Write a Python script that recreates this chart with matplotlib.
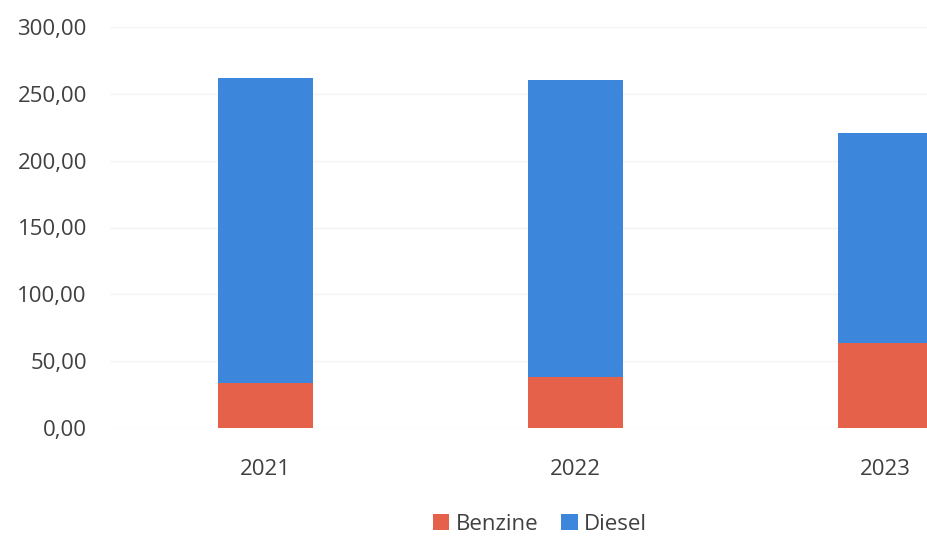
import matplotlib
matplotlib.use('Agg')
import matplotlib.pyplot as plt
import numpy as np

# ── data ─────────────────────────────────────────────────────────────────────
years   = ['2021', '2022', '2023']
benzine = [33.5, 38.5, 63.5]
diesel  = [228.5, 222.0, 157.0]
yticks  = [0, 50, 100, 150, 200, 250, 300]

# ── style ────────────────────────────────────────────────────────────────────
plt.rcParams.update({
    'font.family': ['Open Sans', 'DejaVu Sans'],
    'font.size':   16,
})
C_BENZ = '#e6614a'
C_DIES = '#3c86dc'
TXT    = '#404040'

fig = plt.figure(figsize=(9.28, 5.36), dpi=100)
# axes run past the right edge (the original is cropped there)
ax = fig.add_axes([110.5 / 928, 108 / 536, 930 / 928, 401 / 536])

x = np.arange(len(years))
w = 0.306
ax.bar(x, benzine, w, color=C_BENZ, label='Benzine', zorder=3)
ax.bar(x, diesel, w, bottom=benzine, color=C_DIES, label='Diesel', zorder=3)

ax.set_xlim(-0.5, 2.5)
ax.set_ylim(0, 300)
ax.set_yticks(yticks)
ax.set_yticklabels([f'{v:.2f}'.replace('.', ',') for v in yticks], color=TXT)
ax.set_xticks(x)
ax.set_xticklabels(years, color=TXT)
ax.tick_params(axis='x', length=0, pad=22)
ax.tick_params(axis='y', length=0, pad=17)
ax.yaxis.grid(True, color='#f3f3f3', lw=1.0, zorder=0)
for s in ax.spines.values():
    s.set_visible(False)

leg = fig.legend(loc='center', bbox_to_anchor=(540 / 928, 1 - 524 / 536),
                 ncol=2, frameon=False, handlelength=0.75, handleheight=0.75,
                 handletextpad=0.3, columnspacing=1.0, fontsize=16)
for t in leg.get_texts():
    t.set_color(TXT)

fig.savefig('out.png', dpi=100, facecolor='white')
